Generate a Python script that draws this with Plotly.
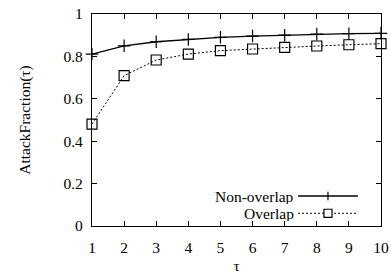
import plotly.graph_objects as go

tau = [1, 2, 3, 4, 5, 6, 7, 8, 9, 10]
non_overlap = [0.811, 0.850, 0.869, 0.880, 0.890, 0.896, 0.900, 0.905, 0.907, 0.909]
overlap = [0.481, 0.709, 0.783, 0.811, 0.827, 0.835, 0.843, 0.849, 0.855, 0.860]
series_names = ["Non-overlap", "Overlap"]
y_ticks = [0, 0.2, 0.4, 0.6, 0.8, 1]
y_tick_labels = ["0", "0.2", "0.4", "0.6", "0.8", "1"]

FONT = "Liberation Serif"
FS = 15.5

fig = go.Figure()
fig.add_trace(go.Scatter(x=tau, y=non_overlap, mode="lines+markers", name=series_names[0],
                         line=dict(color="black", width=1.3),
                         marker=dict(symbol="cross-thin", size=9, color="black",
                                     line=dict(color="black", width=1.2)),
                         showlegend=False, cliponaxis=False))
fig.add_trace(go.Scatter(x=tau, y=overlap, mode="lines+markers", name=series_names[1],
                         line=dict(color="black", width=1, dash="2px,2px"),
                         marker=dict(symbol="square-open", size=10, color="black",
                                     line=dict(color="black", width=1.2)),
                         showlegend=False, cliponaxis=False))

# gnuplot-style key (text on the left, sample on the right)
key_rows = [0.1415, 0.06]
x0, x1 = 0.713, 0.920
xm = (x0 + x1) / 2
for i, name in enumerate(series_names):
    yk = key_rows[i]
    fig.add_annotation(x=x0 - 0.008, y=yk, xref="paper", yref="paper", text=name,
                       showarrow=False, xanchor="right", yanchor="middle", height=16,
                       font=dict(family=FONT, size=FS, color="black"))
    fig.add_shape(type="line", xref="paper", yref="paper", x0=x0, x1=x1, y0=yk, y1=yk,
                  line=dict(color="black", width=1.3 if i == 0 else 1,
                            dash="solid" if i == 0 else "2px,2px"))
    if i == 0:
        fig.add_shape(type="line", xref="paper", yref="paper", x0=xm, x1=xm,
                      y0=yk - 0.02, y1=yk + 0.02, line=dict(color="black", width=1.2))
    else:
        fig.add_shape(type="rect", xref="paper", yref="paper", x0=xm - 0.014, x1=xm + 0.014,
                      y0=yk - 0.019, y1=yk + 0.019, fillcolor="white",
                      line=dict(color="black", width=1.2))

axis_common = dict(showgrid=False, zeroline=False, showline=True, linecolor="black",
                   linewidth=1.3, mirror="ticks", ticks="inside", ticklen=5,
                   tickcolor="black", tickwidth=1, automargin=False,
                   tickfont=dict(family=FONT, size=FS, color="black"))

fig.update_xaxes(range=[1, 10], tickmode="array", tickvals=tau,
                 ticktext=[str(t) for t in tau], ticklabelstandoff=7,
                 title=dict(text="τ", font=dict(family=FONT, size=FS, color="black"), standoff=5),
                 **axis_common)
fig.update_yaxes(range=[0, 1], tickmode="array", tickvals=y_ticks, ticktext=y_tick_labels,
                 ticklabelstandoff=5,
                 title=dict(text="AttackFraction(τ)", font=dict(family=FONT, size=FS, color="black"),
                            standoff=28),
                 **axis_common)

fig.update_layout(width=391, height=277, margin=dict(l=92, r=10, t=14, b=51),
                  plot_bgcolor="white", paper_bgcolor="white",
                  font=dict(family=FONT, size=FS, color="black"))

fig.write_html("out.html", config={"displayModeBar": False},
               post_script="document.body.style.margin='0';document.body.style.overflow='hidden';")
